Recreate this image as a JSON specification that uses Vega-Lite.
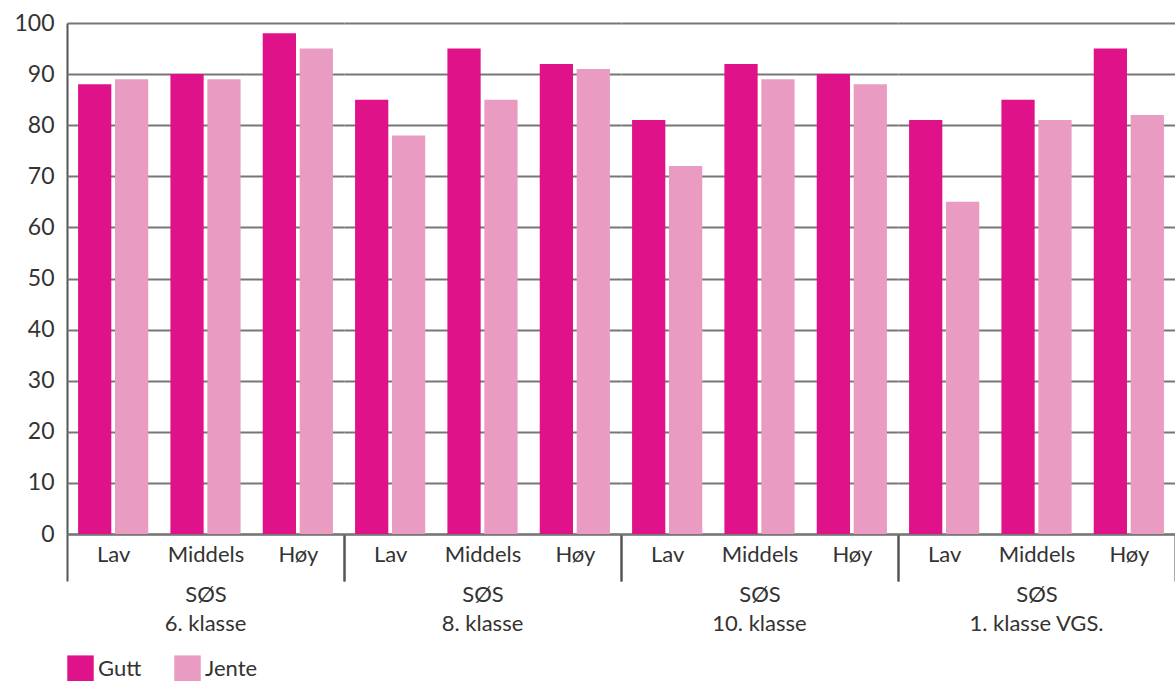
{
  "$schema": "https://vega.github.io/schema/vega-lite/v6.json",
  "padding": {"left": 13, "top": 12, "right": 0, "bottom": 0},
  "config": {
    "font": "Lato",
    "view": {"stroke": null},
    "axis": {"labelFont": "Lato", "labelFontSize": 22, "labelColor": "#333", "titleFont": "Lato", "titleFontSize": 22, "titleFontWeight": "normal", "titleColor": "#333"}
  },
  "data": {"values": [
    {"klasse": "6. klasse", "SOS": "Lav", "kjonn": "Gutt", "verdi": 88},
    {"klasse": "6. klasse", "SOS": "Lav", "kjonn": "Jente", "verdi": 89},
    {"klasse": "6. klasse", "SOS": "Middels", "kjonn": "Gutt", "verdi": 90},
    {"klasse": "6. klasse", "SOS": "Middels", "kjonn": "Jente", "verdi": 89},
    {"klasse": "6. klasse", "SOS": "Høy", "kjonn": "Gutt", "verdi": 98},
    {"klasse": "6. klasse", "SOS": "Høy", "kjonn": "Jente", "verdi": 95},
    {"klasse": "8. klasse", "SOS": "Lav", "kjonn": "Gutt", "verdi": 85},
    {"klasse": "8. klasse", "SOS": "Lav", "kjonn": "Jente", "verdi": 78},
    {"klasse": "8. klasse", "SOS": "Middels", "kjonn": "Gutt", "verdi": 95},
    {"klasse": "8. klasse", "SOS": "Middels", "kjonn": "Jente", "verdi": 85},
    {"klasse": "8. klasse", "SOS": "Høy", "kjonn": "Gutt", "verdi": 92},
    {"klasse": "8. klasse", "SOS": "Høy", "kjonn": "Jente", "verdi": 91},
    {"klasse": "10. klasse", "SOS": "Lav", "kjonn": "Gutt", "verdi": 81},
    {"klasse": "10. klasse", "SOS": "Lav", "kjonn": "Jente", "verdi": 72},
    {"klasse": "10. klasse", "SOS": "Middels", "kjonn": "Gutt", "verdi": 92},
    {"klasse": "10. klasse", "SOS": "Middels", "kjonn": "Jente", "verdi": 89},
    {"klasse": "10. klasse", "SOS": "Høy", "kjonn": "Gutt", "verdi": 90},
    {"klasse": "10. klasse", "SOS": "Høy", "kjonn": "Jente", "verdi": 88},
    {"klasse": "1. klasse VGS.", "SOS": "Lav", "kjonn": "Gutt", "verdi": 81},
    {"klasse": "1. klasse VGS.", "SOS": "Lav", "kjonn": "Jente", "verdi": 65},
    {"klasse": "1. klasse VGS.", "SOS": "Middels", "kjonn": "Gutt", "verdi": 85},
    {"klasse": "1. klasse VGS.", "SOS": "Middels", "kjonn": "Jente", "verdi": 81},
    {"klasse": "1. klasse VGS.", "SOS": "Høy", "kjonn": "Gutt", "verdi": 95},
    {"klasse": "1. klasse VGS.", "SOS": "Høy", "kjonn": "Jente", "verdi": 82}
  ]},
  "spacing": 0,
  "facet": {
    "column": {
      "field": "klasse", "type": "nominal",
      "sort": ["6. klasse", "8. klasse", "10. klasse", "1. klasse VGS."],
      "header": {"labelOrient": "bottom", "title": null, "labelFont": "Lato", "labelFontSize": 22, "labelColor": "#333", "labelPadding": 9}
    }
  },
  "spec": {
    "width": 277,
    "height": 511,
    "mark": {"type": "bar"},
    "encoding": {
      "x": {
        "field": "SOS", "type": "nominal", "sort": ["Lav", "Middels", "Høy"],
        "scale": {"paddingInner": 0, "paddingOuter": 0},
        "axis": {
          "title": "SØS", "labelAngle": 0, "tickBand": "extent", "tickSize": 47, "tickWidth": 2, "tickColor": "#555",
          "tickOpacity": {"condition": {"test": "datum.value !== 'Lav' && datum.value !== 'Middels'", "value": 1}, "value": 0},
          "labelPadding": -37, "titlePadding": 2, "domainColor": "#555", "domainWidth": 2
        }
      },
      "xOffset": {"field": "kjonn", "type": "nominal", "sort": ["Gutt", "Jente"], "scale": {"paddingInner": 0.1, "paddingOuter": 0.3}},
      "y": {
        "field": "verdi", "type": "quantitative", "scale": {"domain": [0, 100]},
        "axis": {"title": null, "values": [0, 10, 20, 30, 40, 50, 60, 70, 80, 90, 100], "ticks": false, "labelPadding": 13, "labelFontSize": 23, "gridColor": "#777", "gridWidth": 2, "domainColor": "#555", "domainWidth": 2}
      },
      "color": {
        "field": "kjonn", "type": "nominal", "sort": ["Gutt", "Jente"],
        "scale": {"range": ["#DF1289", "#E99BC1"]},
        "legend": {"title": null, "orient": "bottom", "direction": "horizontal", "offset": 20, "symbolType": "square", "symbolSize": 700, "symbolStrokeWidth": 0, "labelFontSize": 22, "labelColor": "#333", "labelFont": "Lato", "columnPadding": 32}
      }
    }
  }
}
